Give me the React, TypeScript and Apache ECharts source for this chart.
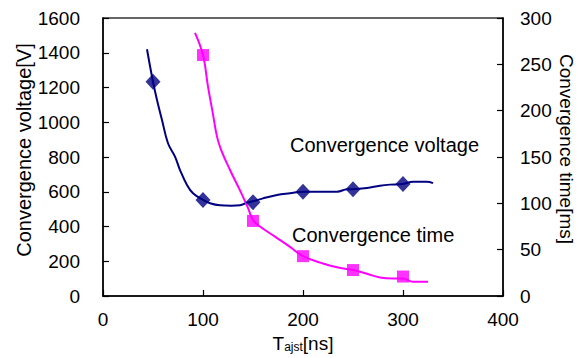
import React, { useEffect, useRef } from "react";
import * as echarts from "echarts";

// Convergence voltage curve (left axis, V)
const voltX = [44, 50, 54, 59, 65, 72, 77, 84, 90, 100, 107, 117, 128, 137, 144, 150, 160, 174, 187, 200, 215, 234, 244, 250, 264, 277, 287, 300, 310, 324, 330];
const voltY = [1420, 1233, 1128, 1013, 879, 802, 725, 639, 591, 553, 534, 522, 520, 522, 537, 545, 562, 581, 591, 600, 600, 600, 614, 615, 622, 635, 641, 645, 658, 658, 650];
const voltMarkX = [50, 100, 150, 200, 250, 300];
const voltMarkY = [1233, 553, 540, 600, 615, 645];

// Convergence time curve (right axis, ms)
const timeX = [92, 100, 105, 110, 114, 118, 127, 137, 145, 150, 157, 172, 187, 200, 220, 234, 250, 264, 277, 290, 300, 310, 325];
const timeY = [284, 260, 226, 196, 172, 158, 136, 114, 95, 82, 75, 64, 53, 43, 35, 31, 28, 24, 20, 19, 19, 15.5, 15.5];
const timeMarkX = [100, 150, 200, 250, 300];
const timeMarkY = [260, 81, 43, 28, 21];

const xTicks = { min: 0, max: 400, interval: 100 };
const yLeft = { min: 0, max: 1600, interval: 200 };
const yRight = { min: 0, max: 300, interval: 50 };

const leftTitle = "Convergence voltage[V]";
const rightTitle = "Convergence time[ms]";

const FONT = "Liberation Sans, Arial, sans-serif";

export default function App() {
  const ref = useRef<HTMLDivElement>(null);
  useEffect(() => {
    const chart = echarts.init(ref.current!, null, { renderer: "svg" });
    const zip = (xs: number[], ys: number[]) => xs.map((x, i) => [x, ys[i]]);
    const fmt = (v: number) => String(v);
    const axisCommon = {
      axisLine: { show: true, lineStyle: { color: "#000", width: 1.5 } },
      axisTick: { show: true, inside: true, length: 6, lineStyle: { color: "#000", width: 1.2 } },
      splitLine: { show: false },
    };
    chart.setOption({
      animation: false,
      backgroundColor: "#fff",
      textStyle: { fontFamily: FONT },
      grid: {
        left: 103, right: 82, top: 18, bottom: 62,
        containLabel: false, outerBoundsMode: "none",
        show: true, borderColor: "#333", borderWidth: 1.5, backgroundColor: "transparent",
      },
      xAxis: {
        type: "value",
        ...xTicks,
        ...axisCommon,
        axisLabel: { fontSize: 19, color: "#000", margin: 14, fontFamily: FONT, formatter: fmt },
        name: "{t|T}{s|ajst}{t|[ns]}",
        nameLocation: "middle",
        nameGap: 37,
        nameTextStyle: {
          rich: {
            t: { fontSize: 19, color: "#000", fontFamily: FONT },
            s: { fontSize: 12, color: "#000", fontFamily: FONT, padding: [8, 0, 0, 0] },
          },
        },
      },
      yAxis: [
        {
          type: "value",
          position: "left",
          ...yLeft,
          ...axisCommon,
          axisLabel: { fontSize: 19, color: "#000", margin: 23, fontFamily: FONT, formatter: fmt },
        },
        {
          type: "value",
          position: "right",
          ...yRight,
          ...axisCommon,
          axisLabel: { fontSize: 19, color: "#000", margin: 17, fontFamily: FONT, formatter: fmt },
        },
      ],
      series: [
        {
          type: "line",
          yAxisIndex: 0,
          data: zip(voltX, voltY),
          showSymbol: false,
          smooth: 0.4,
          lineStyle: { color: "#000080", width: 2 },
          z: 2,
        },
        {
          type: "scatter",
          yAxisIndex: 0,
          data: zip(voltMarkX, voltMarkY),
          symbol: "diamond",
          symbolSize: [15, 16],
          itemStyle: { color: "#000080" },
          z: 4,
        },
        {
          type: "line",
          yAxisIndex: 1,
          data: zip(timeX, timeY),
          showSymbol: false,
          smooth: 0.4,
          lineStyle: { color: "#FF00FF", width: 2 },
          z: 2,
        },
        {
          type: "scatter",
          yAxisIndex: 1,
          data: zip(timeMarkX, timeMarkY),
          symbol: "rect",
          symbolSize: 12,
          itemStyle: { color: "#FF00FF" },
          z: 3,
        },
      ],
      graphic: [
        { type: "text", left: 290, top: 135, style: { text: "Convergence voltage", fontSize: 20, fill: "#000", fontFamily: FONT } },
        { type: "text", left: 292, top: 225, style: { text: "Convergence time", fontSize: 20, fill: "#000", fontFamily: FONT } },
        {
          type: "text", x: 24, y: 150, rotation: Math.PI / 2,
          style: { text: leftTitle, fontSize: 20, fill: "#000", fontFamily: FONT, align: "center", verticalAlign: "middle" },
        },
        {
          type: "text", x: 566, y: 149, rotation: -Math.PI / 2,
          style: { text: rightTitle, fontSize: 19, fill: "#000", fontFamily: FONT, align: "center", verticalAlign: "middle" },
        },
      ],
    });
    return () => chart.dispose();
  }, []);
  return <div ref={ref} style={{ position: "fixed", left: 0, top: 0, width: 585, height: 358 }} />;
}
